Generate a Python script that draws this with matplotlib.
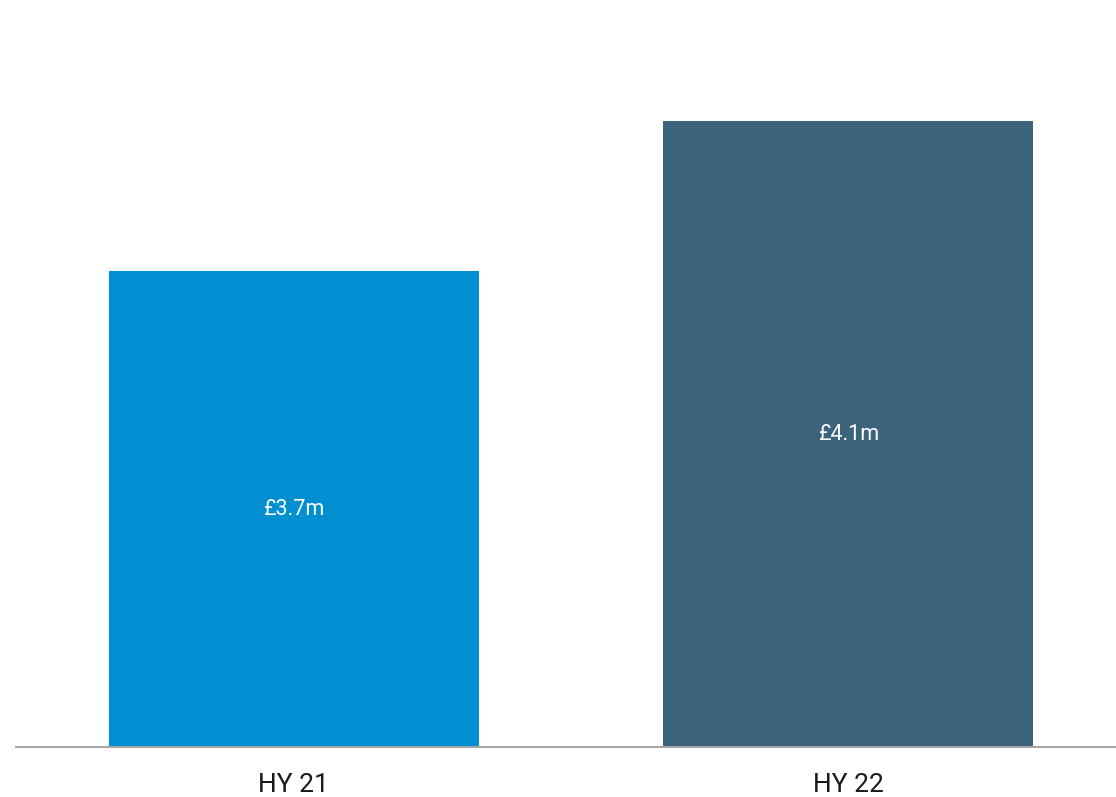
import matplotlib.pyplot as plt

periods = ['HY 21', 'HY 22']
values = [3.7, 4.1]
value_labels = ['£3.7m', '£4.1m']
colors = ['#008FD0', '#3C637C']

fig = plt.figure(figsize=(11.16, 7.97), dpi=100)
ax = fig.add_axes([16 / 1116, 50 / 797, 1 - 16 / 1116, 747 / 797])

base = 2.431
x = range(len(periods))
bars = ax.bar(x, [v - base for v in values], bottom=base, width=0.667, color=colors)

for b, lab in zip(bars, value_labels):
    ax.text(b.get_x() + b.get_width() / 2, base + b.get_height() / 2, lab,
            ha='center', va='center', color='white', fontsize=15.5, family='Roboto')

ax.set_xlim(-0.501, 1.483)
ax.set_ylim(base, 4.423)
ax.set_xticks(list(x))
ax.set_xticklabels(periods, fontsize=19, family='Roboto', fontweight='normal', color='#1a1a1a')
ax.tick_params(axis='x', length=0, pad=19)
ax.set_yticks([])
for s in ['top', 'right', 'left']:
    ax.spines[s].set_visible(False)
ax.spines['bottom'].set_color('#A6A6A6')
ax.spines['bottom'].set_linewidth(1.5)

fig.savefig('out.png', dpi=100)
